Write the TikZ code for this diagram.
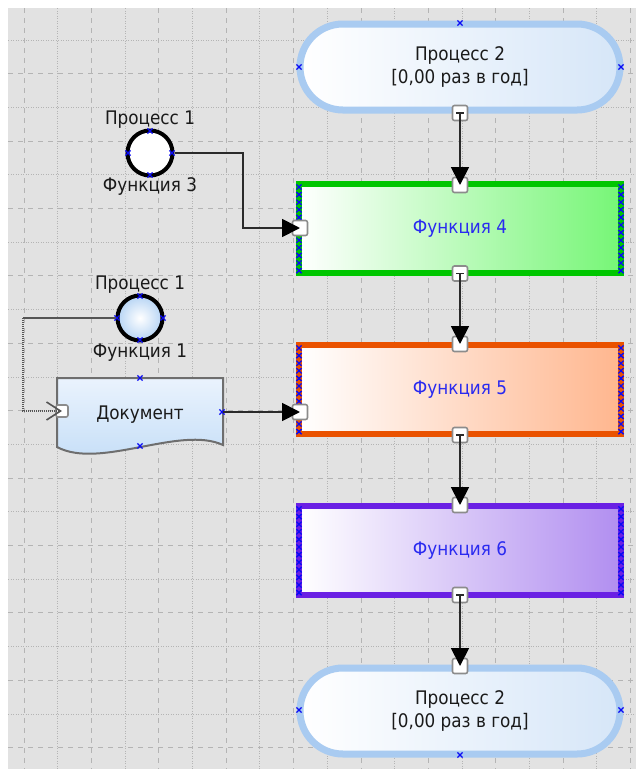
\documentclass[tikz,border=0pt]{standalone}
\usepackage{fontspec}
\setmainfont{DejaVu Sans Condensed}
\usetikzlibrary{arrows.meta,shapes.geometric}
\definecolor{bgc}{HTML}{E2E2E2}
\definecolor{gridc}{HTML}{B4B4B4}
\definecolor{termb}{HTML}{A9CBF1}
\definecolor{termf}{HTML}{D6E6F8}
\definecolor{grb}{HTML}{00C600}
\definecolor{grf}{HTML}{76F676}
\definecolor{orb}{HTML}{EA5200}
\definecolor{orf}{HTML}{FFB68E}
\definecolor{pub}{HTML}{6A20E4}
\definecolor{puf}{HTML}{B18EF0}
\definecolor{ftext}{HTML}{2A2AF0}
\definecolor{dtext}{HTML}{1A1A1A}
\definecolor{c2f}{HTML}{B6D4F4}
\definecolor{docT}{HTML}{EAF3FD}
\definecolor{docB}{HTML}{C2DCF7}
\definecolor{docb}{HTML}{6E6E6E}
\definecolor{portc}{HTML}{8C8C8C}
\definecolor{connc}{HTML}{2A2A2A}
\definecolor{xblue}{HTML}{0A0AF5}
\begin{document}
\begin{tikzpicture}[x=1pt,y=-1pt,
  every node/.style={font=\fontsize{18.7}{23.5}\selectfont},
  gdash/.style={draw=gridc,line width=1pt,dash pattern=on 5pt off 5pt},
  gdot/.style={draw=gridc,line width=1pt,dash pattern=on 1pt off 1.5pt},
  term/.style={rectangle,draw=termb,line width=7pt,rounded corners=42.9pt,
    minimum width=320pt,minimum height=86pt,left color=white,right color=termf,
    text=dtext,align=center,inner sep=0pt},
  fbox/.style={rectangle,line width=6pt,minimum width=322pt,minimum height=89pt,
    text=ftext,inner sep=0pt},
  portbox/.style={rectangle,draw=portc,fill=white,line width=1.6pt,
    minimum size=15pt,inner sep=0pt,rounded corners=2pt},
  circ/.style={circle,draw=black,line width=4pt,minimum size=45pt,inner sep=0pt},
  lbl/.style={text=dtext,inner sep=0pt},
  conn/.style={draw=connc,line width=1.8pt},
  tip/.style={-{Triangle[length=18pt,width=18pt,fill=black,color=black]}},
  tbar/.style={draw=connc,line width=1.6pt},
  xmk/.pic={\draw[xblue,line width=1.3pt] (-2.6,-2.6)--(2.6,2.6) (-2.6,2.6)--(2.6,-2.6);}
]
\useasboundingbox (0,0) rectangle (636,769);
\fill[bgc] (8,8) rectangle (636,769);
\begin{scope}
\clip (8,8) rectangle (636,769);
\foreach \k in {0,2,...,18} \draw[gdash] ({24+33.7*\k},8) -- ({24+33.7*\k},769);
\foreach \k in {1,3,...,17} \draw[gdot] ({24+33.7*\k},8) -- ({24+33.7*\k},769);
\foreach \k in {0,2,...,20} \draw[gdot] (8,{40+33.7*\k}) -- (636,{40+33.7*\k});
\foreach \k in {1,3,...,21} \draw[gdash] (8,{40+33.7*\k}) -- (636,{40+33.7*\k});
\end{scope}

% terminators
\node[term] (t1) at (460,67) {Процесс 2\\{[}0,00 раз в год]};
\node[term] (t2) at (460,711) {Процесс 2\\{[}0,00 раз в год]};

% function boxes
\node[fbox,draw=grb,left color=white,right color=grf] (f4) at (460,228.5) {Функция 4};
\node[fbox,draw=orb,left color=white,right color=orf] (f5) at (460,389.5) {Функция 5};
\node[fbox,draw=pub,left color=white,right color=puf] (f6) at (460,550) {Функция 6};

% events / circles
\node[circ,fill=white] (c1) at (150,153) {};
\node[lbl] (c1a) at (150,120) {Процесс 1};
\node[lbl] (c1b) at (150,187) {Функция 3};
\node[circ,inner color=white,outer color=c2f] (c2) at (140,318) {};
\node[lbl] (c2a) at (140,285) {Процесс 1};
\node[lbl] (c2b) at (140,353) {Функция 1};

% document
\draw[draw=docb,line width=2pt,top color=docT,bottom color=docB]
  (57,378) -- (223,378) -- (223,445) .. controls (180,425) and (100,470) .. (57,447) -- cycle;
\node[lbl] (doc) at (140,415) {Документ};
\coordinate (docR) at (223,412);

% blue connection marks
\foreach \p in {(460,23),(299,67),(621,67),(299,710),(621,710),(460,755),
  (150,131),(150,175),(128,153),(172,153),
  (140,296),(140,340),(117,318),(163,318),
  (140,378),(222,412),(140,446)} \pic at \p {xmk};
\foreach \i in {0,...,11} {
  \pic at (299,{187+7.6*\i}) {xmk}; \pic at (621,{187+7.6*\i}) {xmk};
  \pic at (299,{348+7.6*\i}) {xmk}; \pic at (621,{348+7.6*\i}) {xmk};
  \pic at (299,{509+7.6*\i}) {xmk}; \pic at (621,{509+7.6*\i}) {xmk};
}

% ports
\node[portbox] (pt1) at (460,113) {};
\node[portbox] (p4t) at (460,185) {};
\node[portbox] (p4b) at (460,273.5) {};
\node[portbox] (p4l) at (300,228) {};
\node[portbox] (p5t) at (460,344) {};
\node[portbox] (p5b) at (460,435) {};
\node[portbox] (p5l) at (300,412) {};
\node[portbox] (p6t) at (460,505) {};
\node[portbox] (p6b) at (460,595) {};
\node[portbox] (pt2) at (460,666) {};
\node[portbox,minimum size=12pt] (pdl) at (62,411) {};

% connectors
\draw[conn,tip] (pt1.center) -- (p4t.center);
\draw[conn,tip] (p4b.center) -- (p5t.center);
\draw[conn,tip] (p5b.center) -- (p6t.center);
\draw[conn,tip] (p6b.center) -- (pt2.center);
\coordinate (b1) at (243,153);
\draw[conn,tip] (c1.east) -- (b1) |- (p4l.center);
\draw[conn,tip] (docR) -- (p5l.center);
\coordinate (b2) at (23,318);
\draw[draw=connc!80,line width=1.1pt] (c2.west) -- (b2);
\draw[draw=connc!80,line width=2pt,dash pattern=on 1pt off 1pt,
  -{Straight Barb[length=14pt,width=18pt,line width=1.6pt]}] (b2) |- (pdl.center);
\foreach \p in {pt1,p4b,p5b,p6b}
  \draw[tbar] ([xshift=-4pt]\p.center) -- ([xshift=4pt]\p.center);
\end{tikzpicture}
\end{document}
